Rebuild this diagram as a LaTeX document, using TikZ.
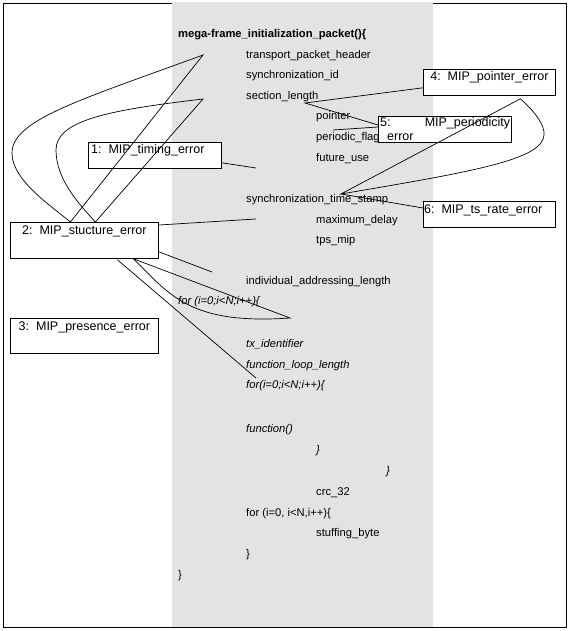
\documentclass[tikz,border=0pt]{standalone}
\usepackage{fontspec}
\setmainfont{Liberation Sans}
\usetikzlibrary{calc}

\definecolor{codegray}{RGB}{227,227,227}
\newcommand\codefont{\fontsize{11.2}{13}\selectfont}
\newcommand\errfont{\fontsize{12.5}{15}\selectfont}

\tikzset{
  errbox/.style={draw, fill=white, line width=0.8pt, inner sep=0pt, anchor=north west},
  errtext/.style={font=\errfont, inner sep=0pt, anchor=base},
  code/.style={font=\codefont, inner sep=0pt, anchor=base west},
  link/.style={line width=0.7pt},
}

\begin{document}
\begin{tikzpicture}[x=1pt,y=-1pt]
\useasboundingbox (0,0) rectangle (571,631);
\fill[white] (0,0) rectangle (571,631);

\fill[codegray] (172,2) rectangle (433,627);
\draw[line width=0.8pt] (172,3) -- (3,3) -- (3,627) -- (566,627) -- (566,3) -- (433,3);

% listing
\node[code,font=\codefont\bfseries] (mega) at (178,38) {mega-frame\_initialization\_packet()\{};
\node[code] (hdr)      at (246,59)  {transport\_packet\_header};
\node[code] (syncid)   at (246,79)  {synchronization\_id};
\node[code] (seclen)   at (246,100) {section\_length};
\node[code] (ptr)      at (316,120) {pointer};
\node[code] (perflag)  at (316,141) {periodic\_flag};
\node[code] (futuse)   at (316,161) {future\_use};
\node[code] (syncts)   at (246,202) {synchronization\_time\_stamp};
\node[code] (maxdelay) at (316,223) {maximum\_delay};
\node[code] (tpsmip)   at (316,243) {tps\_mip};
\node[code] (indlen)   at (246,284) {individual\_addressing\_length};
\node[code,font=\codefont\itshape] (forone)  at (178,304) {for (i=0;i<N;i++)\{};
\node[code,font=\codefont\itshape] (txid)    at (246,347) {tx\_identifier};
\node[code,font=\codefont\itshape] (funclen) at (246,368) {function\_loop\_length};
\node[code,font=\codefont\itshape] (fortwo)  at (246,388) {for(i=0;i<N;i++)\{};
\node[code,font=\codefont\itshape] (func)    at (246,432) {function()};
\node[code,font=\codefont\itshape] (closea)  at (316,453) {\}};
\node[code,font=\codefont\itshape] (closeb)  at (386,474) {\}};
\node[code] (crc)      at (316,495) {crc\_32};
\node[code] (forthree) at (246,516) {for (i=0, i<N,i++)\{};
\node[code] (stuff)    at (316,536) {stuffing\_byte};
\node[code] (closec)   at (246,557) {\}};
\node[code] (closeall) at (178,578) {\}};

% error boxes
\node[errbox, minimum width=133pt, minimum height=26pt] (timing) at (88,142) {};
\node[errtext, anchor=base west] (timingtxt) at (91,154) {1:~~MIP\_timing\_error};
\node[errbox, minimum width=148pt, minimum height=36pt] (stucture) at (10,222) {};
\node[errtext] (stucturetxt) at ($(stucture.north)+(0,12)$) {2:~~MIP\_stucture\_error};
\node[errbox, minimum width=148pt, minimum height=35pt] (presence) at (10,318) {};
\node[errtext] (presencetxt) at ($(presence.north)+(0,12)$) {3:~~MIP\_presence\_error};
\node[errbox, minimum width=132pt, minimum height=26pt] (pointer) at (423,69) {};
\node[errtext] (pointertxt) at ($(pointer.north)+(0,12)$) {4:~~MIP\_pointer\_error};
\node[errbox, minimum width=133pt, minimum height=26pt] (periodicity) at (378,116) {};
\node[errtext, anchor=base west, text width=130pt] (periodicitytxt) at (380,127) {5:\hfill MIP\_periodicity};
\node[errtext, anchor=base west] (periodicitytxtb) at (387,141) {error};
\node[errbox, minimum width=132pt, minimum height=26pt] (tsrate) at (423,201) {};
\node[errtext, anchor=base west] (tsratetxt) at (424,213) {6:~~MIP\_ts\_rate\_error};

% free ends
\coordinate (timingend) at (256,168);
\coordinate (stuca) at (256,219);
\coordinate (stucb) at (212,272);
\coordinate (forloop) at (290,318);
\coordinate (fortwoend) at (256,378);
\coordinate (hdrtip) at (203,55);
\coordinate (lentip) at (203,99);
\coordinate (lenend) at (305,103);
\coordinate (flagend) at (333,130);
\coordinate (tsstamp) at (341,194);

% connectors
\draw[link] ($(timing.south east)+(0,-6)$) -- (timingend);
\draw[link] ($(stucture.north east)+(0,3)$) -- (stuca);
\draw[link] ($(stucture.south east)+(0,-7)$) -- (stucb);
\draw[link] ($(stucture.south)+(33,1)$) -- (fortwoend);
\draw[link] ($(stucture.south)+(49,0)$) -- (forloop)
  .. controls (190,325) and (170,295) .. ($(stucture.south)+(49,0)$);
\draw[link] ($(stucture.north)+(-14,0)$) -- (hdrtip)
  .. controls (80,100) and (12,120) .. (12,153)
  .. controls (12,180) and (50,205) .. ($(stucture.north)+(-14,0)$);
\draw[link] ($(stucture.north)+(11,0)$) -- (lentip)
  .. controls (110,110) and (56,120) .. (56,150)
  .. controls (56,180) and (80,205) .. ($(stucture.north)+(11,0)$);

\draw[link] ($(pointer.south west)+(0,-8)$) -- (lenend) -- ($(periodicity.north west)+(0,9)$);
\draw[link] (flagend) -- ($(periodicity.north west)+(0,11)$);
\draw[link] ($(pointer.south)+(31,3)$) -- (tsstamp)
  .. controls (470,172) and (543,160) .. (544,135)
  .. controls (545,125) and (535,112) .. ($(pointer.south)+(31,3)$);
\draw[link] (tsstamp) -- ($(tsrate.north west)+(0,7)$);

\end{tikzpicture}
\end{document}
